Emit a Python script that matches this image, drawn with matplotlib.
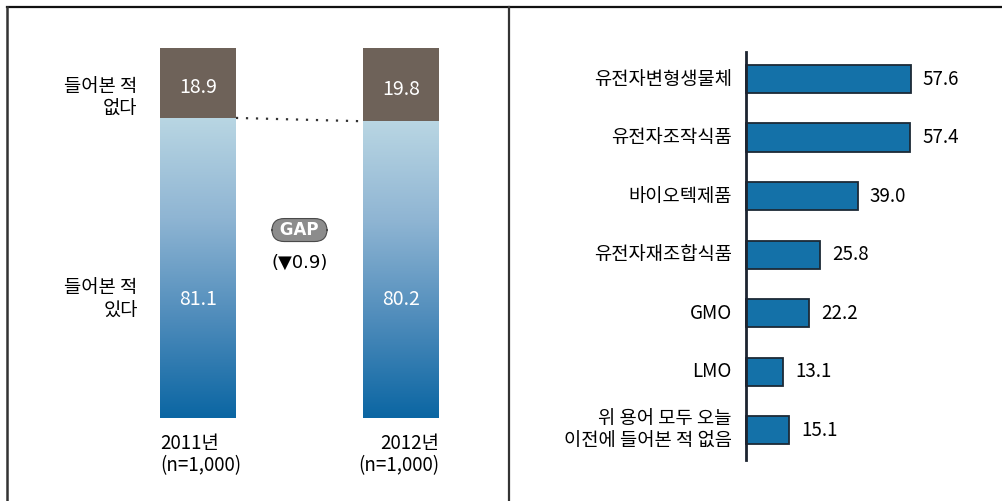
import numpy as np
import matplotlib
matplotlib.use('Agg')
import matplotlib.pyplot as plt
from matplotlib.colors import LinearSegmentedColormap
from matplotlib.lines import Line2D

plt.rcParams['font.family'] = ['Noto Sans CJK KR', 'DejaVu Sans']

# left panel: heard of the term (2011 vs 2012)
years = ['2011년\n(n=1,000)', '2012년\n(n=1,000)']
heard = [81.1, 80.2]
not_heard = [18.9, 19.8]
gap = 0.9

# right panel: terms heard of
terms = ['유전자변형생물체', '유전자조작식품', '바이오텍제품', '유전자재조합식품',
         'GMO', 'LMO', '위 용어 모두 오늘\n이전에 들어본 적 없음']
term_vals = [57.6, 57.4, 39.0, 25.8, 22.2, 13.1, 15.1]

W, H = 1002, 501
fig = plt.figure(figsize=(W / 100, H / 100), dpi=100)

# ---- left chart ----
ax1 = fig.add_axes([0, 0, 509 / W, 1])
ax1.set_xlim(-0.975, 1.532)
ax1.set_ylim(-22.43, 112.97)
ax1.axis('off')

bw = 0.374
xs = np.arange(len(years))
cmap = LinearSegmentedColormap.from_list('blu', ['#0b66a3', '#4f8cbb', '#8fb5d3', '#b9d6e3'])
grad = np.linspace(0, 1, 256).reshape(-1, 1)
y_in = 32  # label height inside the blue part
for i, x in enumerate(xs):
    ax1.imshow(grad, cmap=cmap, aspect='auto', origin='lower',
               extent=[x - bw / 2, x + bw / 2, 0, heard[i]], zorder=2)
    ax1.bar(x, not_heard[i], bottom=heard[i], width=bw, color='#6e6259', zorder=2)
    ax1.text(x, heard[i] + not_heard[i] / 2 - 1.3, f'{not_heard[i]:.1f}', color='white',
             ha='center', va='center', fontsize=14, zorder=3)
    ax1.text(x, y_in, f'{heard[i]:.1f}', color='white',
             ha='center', va='center', fontsize=14, zorder=3)

ax1.plot([xs[0] + bw / 2, xs[1] - bw / 2], [heard[0], heard[1]], color='#333333',
         ls=(0, (1, 3.5)), lw=1.6, zorder=1)

ax1.text(xs[0] - bw / 2, -4, years[0], ha='left', va='top', fontsize=13.5, linespacing=1.1)
ax1.text(xs[1] + bw / 2, -4, years[1], ha='right', va='top', fontsize=13.5, linespacing=1.1)

lx = xs[0] - bw / 2 - 0.11
ax1.text(lx, 86.5, '들어본 적\n없다', ha='right', va='center',
         fontsize=13.5, linespacing=1.15)
ax1.text(lx, y_in, '들어본 적\n있다', ha='right', va='center',
         fontsize=13.5, linespacing=1.15)

mx = (xs[0] + xs[1]) / 2
ax1.text(mx, 50.8, ' GAP ', ha='center', va='center', fontsize=12, color='white',
         fontweight='bold', family='DejaVu Sans',
         bbox=dict(boxstyle='round,pad=0.15,rounding_size=0.75', fc='#8c8c8c', ec='#4a4a4a', lw=0.8))
ax1.text(mx, 42.0, f'(▼{gap:.1f})', ha='center', va='center', fontsize=13,
         family=['DejaVu Sans'])

# ---- right chart ----
ax2 = fig.add_axes([509 / W, 0, 1 - 509 / W, 1])
ax2.set_xlim(-82.7, 89.4)
ax2.set_ylim(7.21, -1.35)
ax2.axis('off')

ys = np.arange(len(terms))
ax2.barh(ys, term_vals, height=0.48, color='#1471a8', edgecolor='#1c2a36', lw=1.3, zorder=2)
ax2.plot([0, 0], [-0.46, 6.51], color='#1c2430', lw=2, zorder=3)
for y, t, v in zip(ys, terms, term_vals):
    ax2.text(-4.9, y, t, ha='right', va='center', fontsize=13.5, linespacing=1.1)
    ax2.text(v + 4.2, y, f'{v:.1f}', ha='left', va='center', fontsize=13.5)

# frame lines
fig.add_artist(Line2D([7 / W, 1], [1 - 7 / H, 1 - 7 / H], color='#111111', lw=1.6))
fig.add_artist(Line2D([7 / W, 7 / W], [0, 1 - 7 / H], color='#333333', lw=1.8))
fig.add_artist(Line2D([509 / W, 509 / W], [0, 1 - 7 / H], color='#333333', lw=1.6))

fig.savefig('out.png', dpi=100)
